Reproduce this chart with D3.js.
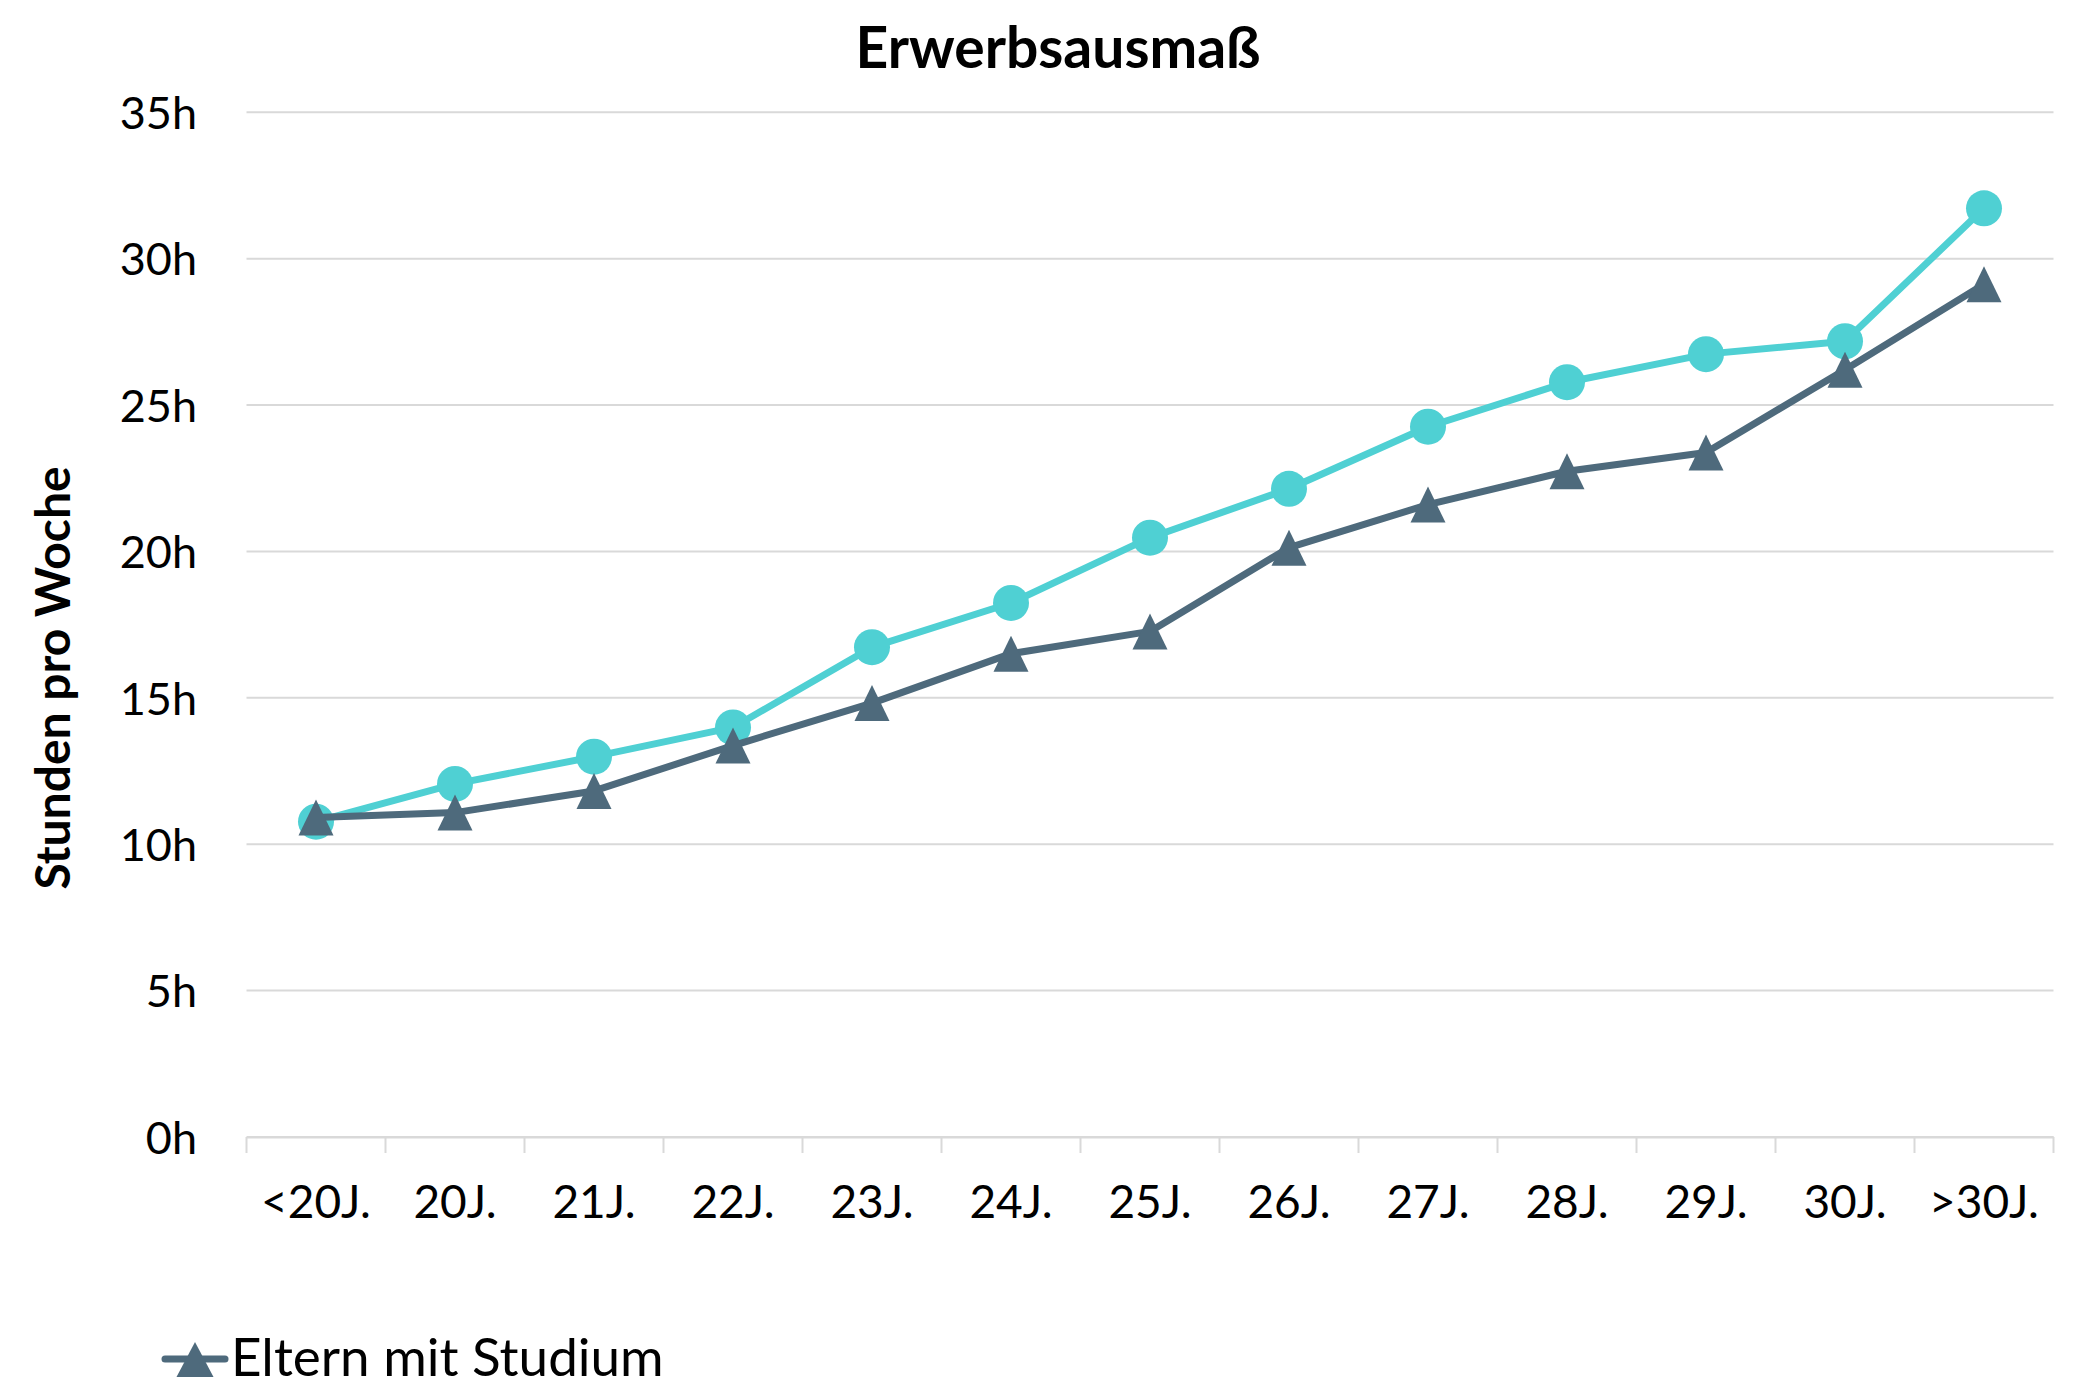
<!DOCTYPE html>
<html>
<head>
<meta charset="utf-8">
<script src="https://cdn.jsdelivr.net/npm/d3@7/dist/d3.min.js"></script>
<style>
  html, body { margin: 0; padding: 0; background: #ffffff; }
  svg { display: block; }
  text { font-family: Lato, "Open Sans", sans-serif; fill: #000; }
</style>
</head>
<body>
<svg id="chart" width="2084" height="1387"></svg>
<script>
// ---- data ----
const categories = ["<20J.", "20J.", "21J.", "22J.", "23J.", "24J.", "25J.", "26J.", "27J.", "28J.", "29J.", "30J.", ">30J."];
const elternMitStudium = [10.91, 11.08, 11.82, 13.37, 14.82, 16.51, 17.27, 20.13, 21.60, 22.74, 23.38, 26.21, 29.13];
const elternOhneStudium = [10.77, 12.06, 12.99, 13.99, 16.73, 18.24, 20.47, 22.14, 24.26, 25.78, 26.74, 27.18, 31.72];
const yTicks = [0, 5, 10, 15, 20, 25, 30, 35];
const title = "Erwerbsausmaß";
const yTitle = "Stunden pro Woche";
const legendLabel = "Eltern mit Studium";

// ---- styles ----
const cyan = "#4fd0d3";
const dark = "#4e6a7c";
const gridColor = "#d9d9d9";

const svg = d3.select("#chart");

const plot = { left: 246.5, right: 2053.5, top: 112.3, bottom: 1137 };

const x = d3.scaleBand().domain(categories).range([plot.left, plot.right]).padding(0);
const y = d3.scaleLinear().domain([0, 35]).range([plot.bottom, plot.top]);
const cx = c => x(c) + x.bandwidth() / 2;

// gridlines
svg.append("g").selectAll("line").data(yTicks).join("line")
  .attr("x1", plot.left).attr("x2", plot.right)
  .attr("y1", d => y(d)).attr("y2", d => y(d))
  .attr("stroke", gridColor).attr("stroke-width", 2);

// x axis
const xAxis = d3.axisBottom(x).tickSize(0).tickFormat(d => d);
const gx = svg.append("g").attr("transform", `translate(0,${plot.bottom})`).call(xAxis);
gx.select(".domain").attr("stroke", gridColor).attr("stroke-width", 2);
gx.selectAll("text")
  .attr("font-size", 46).attr("font-family", "Lato").attr("fill", "#000")
  .attr("dy", 0).attr("y", 81);

// category boundary ticks
const boundaries = categories.map(c => x(c)).concat([plot.right]);
svg.append("g").selectAll("line").data(boundaries).join("line")
  .attr("x1", d => d).attr("x2", d => d)
  .attr("y1", plot.bottom).attr("y2", plot.bottom + 16)
  .attr("stroke", gridColor).attr("stroke-width", 2);

// y axis labels
const yAxis = d3.axisLeft(y).tickValues(yTicks).tickSize(0).tickFormat(d => d + "h");
const gy = svg.append("g").attr("transform", `translate(197,0)`).call(yAxis);
gy.select(".domain").remove();
gy.selectAll("text")
  .attr("font-size", 45).attr("font-family", "Lato").attr("fill", "#000")
  .attr("x", 0).attr("dy", "0.36em");

// title
svg.append("text")
  .attr("x", 1058).attr("y", 68)
  .attr("text-anchor", "middle")
  .attr("font-size", 57).attr("font-weight", "bold")
  .text(title);

// y-axis title
svg.append("text")
  .attr("transform", "translate(70,678) rotate(-90)")
  .attr("text-anchor", "middle")
  .attr("font-size", 48).attr("font-weight", "bold")
  .text(yTitle);

// triangle path generator (bbox centred)
function triPath(px, py, w, h) {
  const p = d3.path();
  p.moveTo(px, py - h / 2);
  p.lineTo(px + w / 2, py + h / 2);
  p.lineTo(px - w / 2, py + h / 2);
  p.closePath();
  return p.toString();
}

const line = d3.line().x((d, i) => cx(categories[i])).y(d => y(d));

// cyan series (Eltern ohne Studium)
svg.append("path").datum(elternOhneStudium)
  .attr("d", line).attr("fill", "none")
  .attr("stroke", cyan).attr("stroke-width", 7)
  .attr("stroke-linejoin", "round").attr("stroke-linecap", "round");
svg.append("g").selectAll("circle").data(elternOhneStudium).join("circle")
  .attr("cx", (d, i) => cx(categories[i])).attr("cy", d => y(d))
  .attr("r", 18).attr("fill", cyan);

// dark series (Eltern mit Studium)
svg.append("path").datum(elternMitStudium)
  .attr("d", line).attr("fill", "none")
  .attr("stroke", dark).attr("stroke-width", 7)
  .attr("stroke-linejoin", "round").attr("stroke-linecap", "round");
svg.append("g").selectAll("path").data(elternMitStudium).join("path")
  .attr("d", (d, i) => triPath(cx(categories[i]), y(d), 35, 36))
  .attr("fill", dark);

// legend
const lg = svg.append("g");
lg.append("line").attr("x1", 165).attr("x2", 225).attr("y1", 1359).attr("y2", 1359)
  .attr("stroke", dark).attr("stroke-width", 7).attr("stroke-linecap", "round");
lg.append("path").attr("d", triPath(195, 1359.5, 37, 35)).attr("fill", dark);
lg.append("text").attr("x", 231).attr("y", 1376)
  .attr("font-size", 53).text(legendLabel);
</script>
</body>
</html>
